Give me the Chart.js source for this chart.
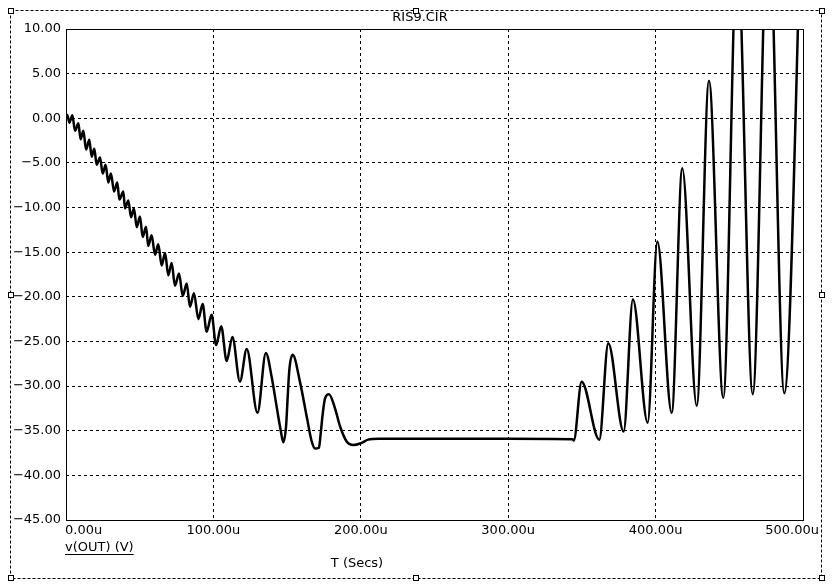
<!DOCTYPE html>
<html>
<head>
<meta charset="utf-8">
<script src="https://cdn.jsdelivr.net/npm/chart.js@4.4.1/dist/chart.umd.min.js"></script>
<style>
  html, body { margin: 0; padding: 0; background: #fff; }
</style>
</head>
<body>
<canvas id="scope" width="832" height="588"></canvas>
<script>
// transient of v(OUT), time in microseconds
const timeUs = [
    0, 0.9, 2.3, 4.3, 6.1, 8.4, 9.9, 11.8, 13.6, 15.8,
    17.4, 19.2, 20.8, 23.1, 24.9, 26.9, 28.7, 30.5, 32.6, 34.8,
    36.2, 38.9, 40.0, 42.3, 44.1, 46.1, 48.0, 50.2, 52.0, 54.3,
    55.8, 58.1, 60.4, 62.6, 64.9, 67.2, 69.4, 71.7, 73.9, 76.7,
    79.2, 81.9, 84.1, 86.8, 89.8, 92.7, 95.4, 98.8, 101.8, 105.3,
    109.0, 112.9, 118.0, 122.6, 129.9, 135.6, 139.5, 142.9, 145.6, 147.4,
    149.3, 150.4, 151.5, 153.8, 158.7, 163.3, 166.7, 169.0, 171.6, 172.8,
    174.1, 175.7, 178.4, 182.5, 185.9, 190.4, 195.0, 200.0, 205.0, 212.0,
    260.0, 300.0, 343.7, 344.5, 349.8, 361.8, 367.9, 378.3, 384.6, 394.6,
    401.2, 410.9, 418.1, 427.9, 436.2, 445.9, 455.4, 465.9, 476.5, 487.3,
    500.0
];
const vOut = [
    0.2, 0.37, -0.5, 0.35, -1.4, -0.56, -2.35, -1.4, -3.5, -2.4,
    -4.3, -3.4, -5.2, -4.4, -6.2, -5.2, -7.2, -6.2, -8.2, -7.2,
    -9.1, -8.2, -10.1, -9.2, -11.1, -10.1, -12.2, -11.0, -13.3, -12.15,
    -14.3, -13.1, -15.3, -14.1, -16.5, -15.1, -17.6, -16.2, -18.75, -17.4,
    -19.9, -18.5, -21.1, -19.6, -22.5, -20.8, -23.9, -22.0, -25.4, -23.3,
    -27.2, -24.5, -29.5, -25.85, -33.0, -26.3, -28.95, -32.3, -34.9, -36.3,
    -34.5, -31.2, -28.2, -26.5, -29.5, -33.4, -36.2, -37.0, -36.9, -35.3,
    -33.2, -31.4, -30.9, -32.5, -34.5, -36.2, -36.6, -36.4, -36.0, -35.9,
    -35.9, -35.9, -35.95, -36.1, -29.5, -36.0, -25.2, -35.1, -20.3, -34.1,
    -13.8, -33.0, -5.6, -32.2, 4.2, -31.3, 19.0, -30.9, 24.0, -30.8,
    30.0
];

const xTicks = [0, 100, 200, 300, 400, 500];
const xTickLabels = ['0.00u', '100.00u', '200.00u', '300.00u', '400.00u', '500.00u'];
const yTicks = [-45, -40, -35, -30, -25, -20, -15, -10, -5, 0, 5, 10];
const yTickLabels = ['\u221245.00', '\u221240.00', '\u221235.00', '\u221230.00', '\u221225.00', '\u221220.00',
                     '\u221215.00', '\u221210.00', '\u22125.00', '0.00', '5.00', '10.00'];

const FONT = '13px "DejaVu Sans"';

// frame, title, x labels and axis captions of the probe window
const scopeFrame = {
    id: 'scopeFrame',
    afterDraw(chart) {
        const ctx = chart.ctx;
        const a = chart.chartArea;
        const xs = chart.scales.x;
        ctx.save();

        // solid plot border
        ctx.strokeStyle = '#000';
        ctx.lineWidth = 1;
        ctx.setLineDash([]);
        ctx.strokeRect(Math.floor(a.left) + 0.5, Math.floor(a.top) + 0.5,
            Math.round(a.right - a.left), Math.round(a.bottom - a.top));

        ctx.fillStyle = '#000';
        ctx.font = FONT;
        ctx.textBaseline = 'middle';

        // x tick labels, kept inside the window like the original
        ctx.textAlign = 'left';
        xTicks.forEach(function (v, i) {
            const px = xs.getPixelForValue(v);
            const w = ctx.measureText(xTickLabels[i]).width;
            let left = px - w / 2;
            left = Math.max(left, a.left - 1);
            left = Math.min(left, 819 - w);
            ctx.fillText(xTickLabels[i], left, a.bottom + 11);
        });

        // trace name, underlined
        const trace = 'v(OUT) (V)';
        ctx.fillText(trace, 65, 547.5);
        const tw = ctx.measureText(trace).width;
        ctx.beginPath();
        ctx.moveTo(65, 554.5);
        ctx.lineTo(65 + tw, 554.5);
        ctx.stroke();

        ctx.textAlign = 'center';
        ctx.fillText('T (Secs)', 357, 564);
        ctx.fillText('RIS9.CIR', 420, 18);

        // dashed selection frame with handles
        ctx.setLineDash([3, 2]);
        ctx.strokeRect(10.5, 10.5, 811, 568);
        ctx.setLineDash([]);
        const handles = [[11, 11], [416, 11], [822, 11], [11, 295], [822, 295],
                         [11, 578], [416, 578], [822, 578]];
        handles.forEach(function (h) {
            ctx.fillStyle = '#fff';
            ctx.fillRect(h[0] - 2.5, h[1] - 2.5, 5, 5);
            ctx.strokeRect(h[0] - 2.5, h[1] - 2.5, 5, 5);
        });
        ctx.restore();
    }
};

const ctx = document.getElementById('scope').getContext('2d');

new Chart(ctx, {
    type: 'line',
    data: {
        datasets: [{
            label: 'v(OUT)',
            data: timeUs.map((t, i) => ({ x: t, y: vOut[i] })),
            borderColor: '#000',
            borderWidth: 2.5,
            pointRadius: 0,
            fill: false,
            cubicInterpolationMode: 'monotone'
        }]
    },
    options: {
        responsive: false,
        animation: false,
        layout: { padding: { top: 29, right: 29, left: 0, bottom: 0 } },
        plugins: {
            legend: { display: false },
            tooltip: { enabled: false }
        },
        scales: {
            x: {
                type: 'linear',
                min: 0,
                max: 500,
                afterBuildTicks: function (scale) {
                    scale.ticks = xTicks.map(v => ({ value: v }));
                },
                afterFit: function (scale) { scale.height = 68; },
                ticks: { display: false },
                grid: { color: '#000', lineWidth: 1, drawTicks: false },
                border: { display: false, dash: [3, 3] }
            },
            y: {
                type: 'linear',
                min: -45,
                max: 10,
                afterBuildTicks: function (scale) {
                    scale.ticks = yTicks.map(v => ({ value: v }));
                },
                afterFit: function (scale) { scale.width = 66; },
                ticks: {
                    color: '#000',
                    padding: 5,
                    font: { family: 'DejaVu Sans', size: 13 },
                    callback: function (value) {
                        return yTickLabels[yTicks.indexOf(value)];
                    }
                },
                grid: { color: '#000', lineWidth: 1, drawTicks: false },
                border: { display: false, dash: [3, 3] }
            }
        }
    },
    plugins: [scopeFrame]
});
</script>
</body>
</html>
